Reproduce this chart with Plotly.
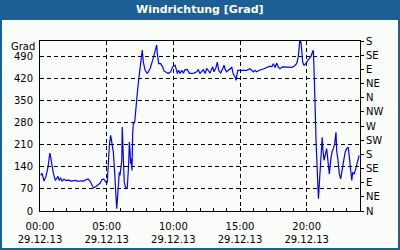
import plotly.graph_objects as go

# time of day (29.12.2013) and wind direction in degrees
times = ["00:03","00:09","00:18","00:27","00:36","00:44","00:48","00:54","01:00","01:09",
         "01:15","01:21","01:26","01:33","01:39","01:48","01:57","02:09","02:21","02:33",
         "02:43","02:51","03:03","03:14","03:24","03:36","03:45","03:54","04:00","04:09",
         "04:18","04:30","04:39","04:47","04:54","05:00","05:03","05:06","05:12","05:18",
         "05:24","05:30","05:36","05:42","05:45","05:48","05:52","05:57","06:00","06:03",
         "06:08","06:10","06:15","06:19","06:27","06:33","06:39","06:42","06:45","06:48",
         "06:51","06:54","06:57","07:00","07:06","07:12","07:15","07:22","07:27","07:33",
         "07:38","07:40","07:45","07:53","08:03","08:15","08:27","08:38","08:45","08:48",
         "08:54","09:03","09:12","09:18","09:27","09:37","09:48","09:57","10:08","10:18",
         "10:24","10:30","10:38","10:45","10:53","11:03","11:12","11:23","11:33","11:45",
         "11:52","12:00","12:08","12:15","12:23","12:30","12:37","12:45","12:57","13:03",
         "13:12","13:18","13:24","13:33","13:42","13:48","13:54","14:00","14:07","14:15",
         "14:23","14:30","14:38","14:42","14:45","14:50","15:00","15:15","15:30","15:45",
         "15:53","16:00","16:08","16:15","16:27","16:38","16:48","17:00","17:15","17:23",
         "17:30","17:38","17:45","17:52","18:00","18:12","18:23","18:33","18:45","18:54",
         "19:03","19:15","19:22","19:27","19:30","19:35","19:38","19:42","19:48","19:56",
         "20:03","20:12","20:20","20:27","20:30","20:33","20:38","20:41","20:42","20:48",
         "20:53","20:57","21:03","21:08","21:10","21:12","21:18","21:23","21:30","21:37",
         "21:42","21:48","21:54","22:00","22:06","22:12","22:15","22:21","22:27","22:33",
         "22:39","22:45","22:53","23:00","23:07","23:12","23:18","23:23","23:27","23:33",
         "23:39","23:45","23:51","23:56"]
direction = [113,120,95,110,139,184,171,139,120,97,
             106,110,97,104,95,101,97,98,95,95,
             97,94,96,95,99,102,95,84,74,76,
             82,88,100,101,95,88,92,139,208,240,
             219,187,123,65,7,33,70,123,113,129,
             161,267,161,92,70,76,150,219,192,150,
             166,129,246,277,282,320,352,405,438,473,
             495,511,473,447,437,452,479,511,527,500,
             468,468,458,445,442,437,442,458,463,437,
             447,437,447,438,449,449,437,438,438,442,
             449,437,442,449,437,452,447,438,458,442,
             456,473,447,438,452,463,449,442,447,452,
             456,434,426,415,431,447,447,447,447,452,
             447,442,447,442,447,449,452,456,460,458,
             468,456,470,458,452,458,458,456,456,456,
             460,468,489,516,548,532,500,473,463,468,
             476,484,492,507,510,452,362,256,224,118,
             39,87,171,219,234,203,161,177,198,150,
             118,161,187,198,214,250,192,161,118,102,
             129,161,187,198,203,171,118,97,123,118,
             129,145,161,177]

left_ticks = [0, 70, 140, 210, 280, 350, 420, 490]
right_tickvals = [0, 45, 90, 135, 180, 225, 270, 315, 360, 405, 450, 495, 540]
right_ticktext = ["N", "NE", "E", "SE", "S", "SW", "W", "NW", "N", "NE", "E", "SE", "S"]
title_text = "Windrichtung [Grad]"
y_unit = "Grad"

date = "2013-12-29"
x = [f"{date} {t}" for t in times]

BLUE = "#1c5f95"
BG = "#fafcfa"
FONT = "DejaVu Sans"

fig = go.Figure()
fig.add_trace(go.Scatter(x=x, y=direction, mode="lines",
                         line=dict(color="#0000ff", width=1.2),
                         hoverinfo="skip", showlegend=False))
# invisible trace to activate right axis
fig.add_trace(go.Scatter(x=[x[0]], y=[0], yaxis="y2", mode="markers",
                         marker=dict(opacity=0), hoverinfo="skip", showlegend=False))

W, H = 400, 250
ml, mr, mt, mb = 40, 40, 41, 39
pw, ph = W - ml - mr, H - mt - mb

def px2x(px):
    return (px - ml) / pw

def py2y(py):
    return (H - mb - py) / ph

fig.update_layout(
    width=W, height=H,
    margin=dict(l=ml, r=mr, t=mt, b=mb, pad=0, autoexpand=False),
    paper_bgcolor=BLUE,
    plot_bgcolor=BG,
    font=dict(family=FONT, size=10, color="black"),
    showlegend=False,
    xaxis=dict(
        type="date", automargin=False,
        range=[f"{date} 00:00", "2013-12-30 00:00"],
        tick0=f"{date} 00:00", dtick=5 * 3600 * 1000,
        tickformat="%H:%M<br>%d.%m.%y",
        showgrid=True, gridcolor="black", gridwidth=1, griddash="4px,3px",
        ticks="inside", ticklen=3, tickcolor="black", ticklabelstandoff=6,
        minor=dict(dtick=3600 * 1000, ticks="inside", ticklen=3, tickcolor="black", showgrid=False),
        showline=True, linecolor="black", linewidth=1, mirror=True,
        zeroline=False, fixedrange=True,
    ),
    yaxis=dict(
        range=[0, 540], tickvals=left_ticks, automargin=False,
        showgrid=True, gridcolor="black", gridwidth=1, griddash="4px,3px",
        ticks="", ticklabelstandoff=4,
        showline=True, linecolor="black", linewidth=1, mirror=True,
        zeroline=False, fixedrange=True,
    ),
    yaxis2=dict(
        range=[0, 540], overlaying="y", side="right", automargin=False,
        tickvals=right_tickvals, ticktext=right_ticktext,
        ticks="outside", ticklen=3, tickcolor="black",
        showgrid=False, showline=True, linecolor="black", linewidth=1,
        zeroline=False, fixedrange=True,
    ),
    shapes=[dict(type="rect", xref="paper", yref="paper",
                 x0=px2x(2), x1=px2x(W - 2), y0=py2y(H - 2), y1=py2y(20),
                 fillcolor=BG, line=dict(width=0), layer="below")],
    annotations=[
        dict(text=f"<b>{title_text}</b>", xref="paper", yref="paper",
             x=px2x(200), y=py2y(10), xanchor="center", yanchor="middle",
             showarrow=False, font=dict(family=FONT, size=11, color="white")),
        dict(text=y_unit, xref="paper", yref="paper",
             x=px2x(37), y=py2y(46), xanchor="right", yanchor="middle",
             showarrow=False, font=dict(family=FONT, size=10, color="black")),
    ],
)

fig.write_html("out.html", config={"displayModeBar": False})
